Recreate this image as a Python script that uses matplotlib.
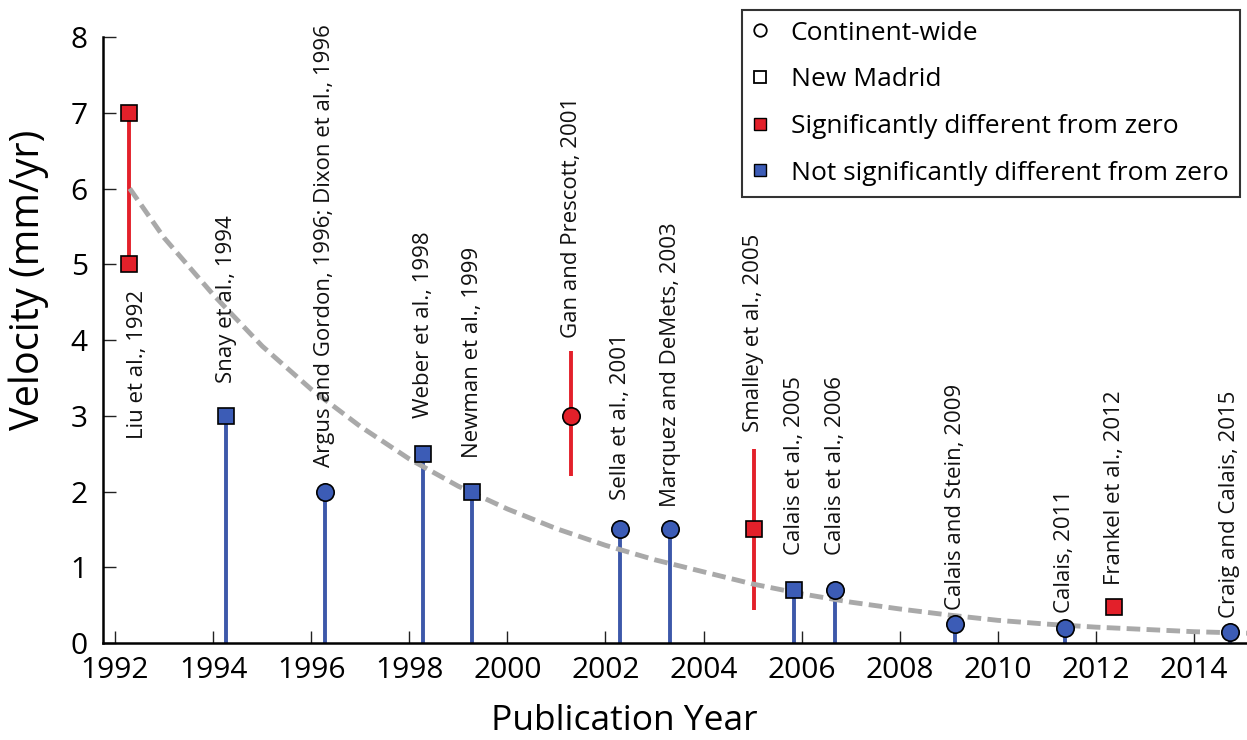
import matplotlib.pyplot as plt
from matplotlib.lines import Line2D

plt.rcParams['font.family'] = ['Open Sans', 'DejaVu Sans']

# one entry per study
studies = ['Liu et al., 1992', 'Snay et al., 1994',
           'Argus and Gordon, 1996; Dixon et al., 1996', 'Weber et al., 1998',
           'Newman et al., 1999', 'Gan and Prescott, 2001', 'Sella et al., 2001',
           'Marquez and DeMets, 2003', 'Smalley et al., 2005', 'Calais et al., 2005',
           'Calais et al., 2006', 'Calais and Stein, 2009', 'Calais, 2011',
           'Frankel et al., 2012', 'Craig and Calais, 2015']
years = [1992.29, 1994.27, 1996.28, 1998.28, 1999.28, 2001.30, 2002.30, 2003.32,
         2005.02, 2005.85, 2006.68, 2009.13, 2011.36, 2012.37, 2014.73]
velocity = [None, 3.0, 2.0, 2.5, 2.0, 3.0, 1.5, 1.5, 1.5, 0.7, 0.7, 0.25, 0.2, 0.47, 0.14]
lower = [5.0, None, None, None, None, 2.2, None, None, 0.44, None, None, None, None, None, None]
upper = [7.0, None, None, None, None, 3.85, None, None, 2.56, None, None, None, None, None, None]
region = ['NM', 'NM', 'CW', 'NM', 'NM', 'CW', 'CW', 'CW', 'NM', 'NM', 'CW', 'CW', 'CW', 'NM', 'CW']
significant = [True, False, False, False, False, True, False, False, True, False,
               False, False, False, True, False]
# height where each rotated label starts
label_base = [2.70, 3.43, 2.32, 2.97, 2.44, 4.03, 1.89, 1.80, 2.79, 1.16, 1.16,
              0.44, 0.40, 0.77, 0.33]

# dashed trend line
trend_years = [1992.3, 1993, 1994, 1995, 1996, 1997, 1998, 1999, 2000, 2001, 2002,
               2003, 2004, 2005, 2006, 2007, 2008, 2009, 2010, 2011, 2012, 2013,
               2014, 2015.1]
trend_vel = [6.0, 5.35, 4.6, 3.92, 3.35, 2.86, 2.43, 2.07, 1.77, 1.51, 1.29, 1.1,
             0.94, 0.78, 0.65, 0.54, 0.45, 0.37, 0.3, 0.25, 0.21, 0.18, 0.15, 0.13]

red = '#e3202a'
blue = '#3c5cb6'
stem_blue = '#3d58aa'
grey = '#a9a9a9'

fig = plt.figure(figsize=(12.47, 7.40), dpi=100)
ax = fig.add_axes([0.0826, 0.131, 0.9174, 0.819])

for i in range(len(studies)):
    x = years[i]
    if significant[i] and lower[i] is not None:
        ax.vlines(x, lower[i], upper[i], color=red, lw=2.8, zorder=2)
    elif not significant[i]:
        ax.vlines(x, 0, velocity[i], color=stem_blue, lw=2.8, zorder=2)

ax.plot(trend_years, trend_vel, color=grey, lw=3.5, linestyle=(0, (2.8, 1.3)),
        zorder=3, clip_on=False)

for i in range(len(studies)):
    x = years[i]
    mk = 'o' if region[i] == 'CW' else 's'
    ms = 12.5 if mk == 'o' else 11.5
    fc = red if significant[i] else blue
    if velocity[i] is None:
        ys = [lower[i], upper[i]]
    else:
        ys = [velocity[i]]
    for y in ys:
        ax.plot(x, y, marker=mk, ms=ms, mfc=fc, mec='black', mew=1.2,
                linestyle='none', zorder=4, clip_on=False)
    dx = 0.17 if i == 0 else 0.0
    ax.text(x + dx, label_base[i], studies[i], rotation=90, ha='center',
            va='bottom', fontsize=16, color='#111111', zorder=5)

ax.set_xlim(1991.755, 2015.08)
ax.set_ylim(0, 8)
ax.set_xticks(range(1992, 2015, 2))
ax.set_yticks(range(0, 9))
ax.spines['top'].set_visible(False)
ax.spines['right'].set_visible(False)
ax.spines['left'].set_linewidth(1.8)
ax.spines['bottom'].set_linewidth(1.8)
ax.tick_params(direction='in', length=9, width=1.0, labelsize=21.5, color='#222222')
ax.tick_params(axis='y', pad=11)
ax.tick_params(axis='x', pad=9)
ax.set_xlabel('Publication Year', fontsize=25.5)
ax.set_ylabel('Velocity (mm/yr)', fontsize=28.5)
ax.xaxis.set_label_coords(0.456, -0.1)
ax.yaxis.set_label_coords(-0.047, 0.6)

handles = [
    Line2D([], [], marker='o', ms=9, mfc='white', mec='black', mew=1.3, linestyle='none'),
    Line2D([], [], marker='s', ms=8.5, mfc='white', mec='black', mew=1.3, linestyle='none'),
    Line2D([], [], marker='s', ms=8.5, mfc=red, mec='black', mew=1.0, linestyle='none'),
    Line2D([], [], marker='s', ms=8.5, mfc=blue, mec='black', mew=1.0, linestyle='none'),
]
names = ['Continent-wide', 'New Madrid', 'Significantly different from zero',
         'Not significantly different from zero']
leg = fig.legend(handles, names, loc='upper right', bbox_to_anchor=(0.994, 0.987),
                 fontsize=19, frameon=True, fancybox=False, edgecolor='black',
                 handlelength=0.5, handletextpad=0.92, labelspacing=0.82,
                 borderpad=0.42, borderaxespad=0)
leg.get_frame().set_linewidth(1.5)

plt.savefig('out.png', dpi=100)
plt.close(fig)
